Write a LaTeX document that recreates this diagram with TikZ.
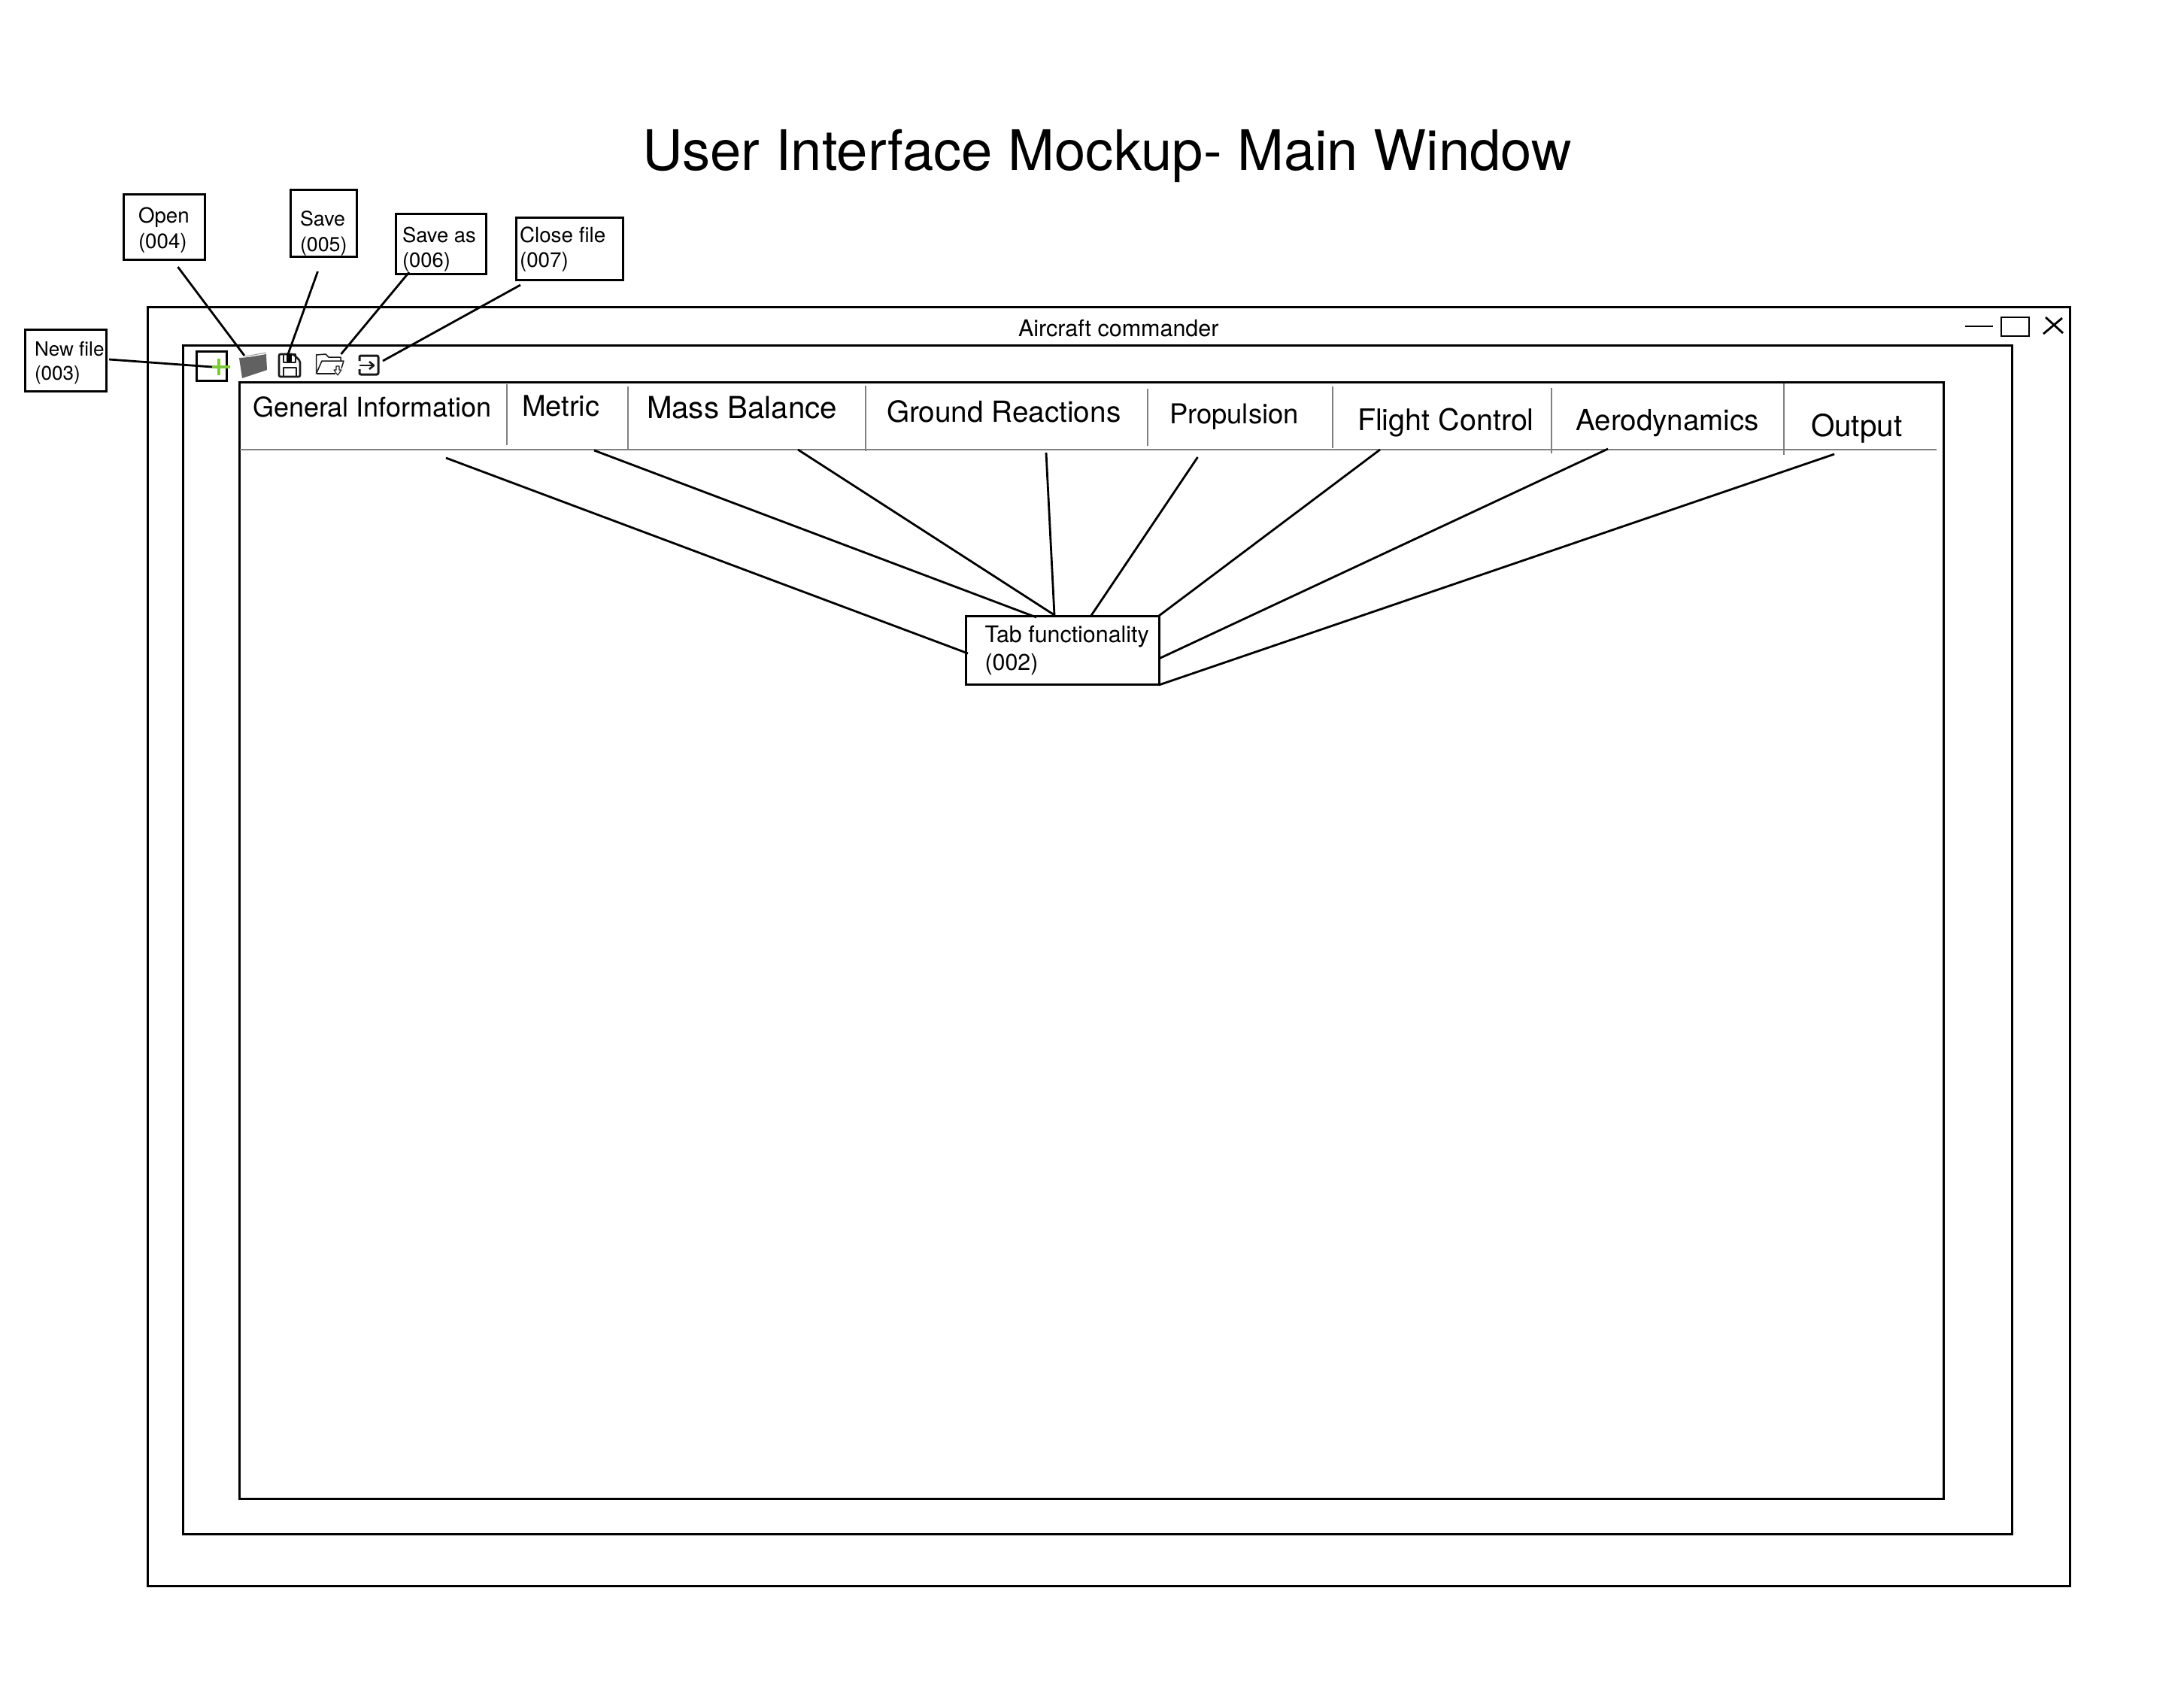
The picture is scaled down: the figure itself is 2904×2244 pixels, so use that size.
\documentclass[tikz,border=0pt]{standalone}
\usepackage{fontspec}
\setmainfont{TeX Gyre Heros}
\newcommand{\fsz}[1]{\fontsize{#1}{#1}\selectfont}
\tikzset{
  x=1pt,y=-1pt,
  panel/.style={draw=black,line width=3pt,fill=none,inner sep=0pt,outer sep=0pt,anchor=north west},
  labelbox/.style={draw=black,line width=3pt,fill=white,inner sep=0pt,outer sep=0pt,anchor=north west},
  plain/.style={inner sep=0pt,outer sep=0pt,anchor=base west,text=black},
  note/.style={inner sep=0pt,outer sep=0pt,anchor=north west,align=left,text=black},
  conn/.style={draw=black,line width=2.8pt},
  tabsep/.style={draw=black!50,line width=2.2pt},
  winctl/.style={draw=black,line width=2.8pt},
  ico/.style={draw=black!90,line width=2.6pt,line join=round},
}
\begin{document}
\begin{tikzpicture}
\useasboundingbox[fill=white] (0,0) rectangle (2904,2244);
% title
\node[plain,font=\fsz{74.2}] (title) at (854,226) {User Interface Mockup- Main Window};
% windows
\node[panel,minimum width=2556pt,minimum height=1701pt] (outer) at (196,408) {};
\node[panel,minimum width=2432pt,minimum height=1581pt] (middle) at (243,459) {};
\node[panel,minimum width=2266pt,minimum height=1485pt] (inner) at (318.5,508) {};
\node[plain,font=\fsz{30.5}] (appname) at (1354,447) {Aircraft commander};
% window controls
\coordinate (minA) at (2613,434); \coordinate (minB) at (2650,434);
\draw[winctl] (minA) -- (minB);
\node[panel,winctl,minimum width=37pt,minimum height=25pt] (maxbtn) at (2661,422) {};
\coordinate (xA) at (2717,444); \coordinate (xB) at (2742,423);
\coordinate (xC) at (2720,422); \coordinate (xD) at (2743,443);
\draw[winctl] (xA) -- (xB) (xC) -- (xD);
% tab bar
\coordinate (barL) at (319,598); \coordinate (barR) at (2575,598);
\draw[tabsep,line width=2.8pt] (barL) -- (barR);
\foreach \n/\sx/\sa/\sb in {a/674/511/592,b/835/514/597,c/1151/513/600,d/1526/517/593,e/1772/514/596,f/2063/516/603,g/2372/510/605}{
  \coordinate (sep\n t) at (\sx,\sa); \coordinate (sep\n b) at (\sx,\sb);
  \draw[tabsep] (sep\n t) -- (sep\n b);
}
\node[plain,font=\fsz{36}] (tGen) at (336,554) {General Information};
\node[plain,font=\fsz{38}] (tMet) at (694,553) {Metric};
\node[plain,font=\fsz{40.3}] (tMas) at (860,556) {Mass Balance};
\node[plain,font=\fsz{38.7}] (tGro) at (1179,561) {Ground Reactions};
\node[plain,font=\fsz{36.4}] (tPro) at (1555,563) {Propulsion};
\node[plain,font=\fsz{39.5}] (tFli) at (1805,572) {Flight Control};
\node[plain,font=\fsz{38.5}] (tAer) at (2095.5,572) {Aerodynamics};
\node[plain,font=\fsz{40.4}] (tOut) at (2408,580) {Output};
% callout boxes
\node[labelbox,minimum width=108pt,minimum height=87pt] (bOpen) at (164,258) {};
\node[labelbox,minimum width=88pt,minimum height=89pt] (bSave) at (386,252) {};
\node[labelbox,minimum width=120pt,minimum height=80pt] (bSaveAs) at (526,284) {};
\node[labelbox,minimum width=142pt,minimum height=83pt] (bClose) at (686,289) {};
\node[labelbox,minimum width=108pt,minimum height=82pt] (bNew) at (33,438) {};
\node[labelbox,minimum width=257pt,minimum height=91pt] (bTab) at (1284,819.5) {};
\node[note,font=\fontsize{27.7}{34}\selectfont] (nOpen) at (184,276) {Open\\(004)};
\node[note,font=\fontsize{26.8}{34}\selectfont] (nSave) at (399,280) {Save\\(005)};
\node[note,font=\fontsize{27.4}{33}\selectfont] (nSaveAs) at (535,302.5) {Save as\\(006)};
\node[note,font=\fontsize{27.8}{33}\selectfont] (nClose) at (691,301.5) {Close file\\(007)};
\node[note,font=\fontsize{26.1}{32}\selectfont] (nNew) at (46,454) {New file\\(003)};
\node[note,font=\fontsize{30.4}{37}\selectfont] (nTab) at (1309.5,832) {Tab functionality\\(002)};
% toolbar icons
\node[panel,minimum width=40pt,minimum height=39pt] (newicon) at (261,467) {};
% closed folder
\fill[black!62] (318,476) -- (322,503) -- (355,492) -- (354,471) -- (331,475) -- cycle;
\draw[black!40,line width=1pt] (326,474) -- (354,469);
% floppy
\draw[ico,rounded corners=2pt] (371,471) -- (390,471) -- (399,480) -- (399,501) -- (371,501) -- cycle;
\draw[ico,line width=1.6pt] (377,471) rectangle (393,482);
\fill[black] (381,471) rectangle (388,481);
\draw[ico] (377,501) -- (377,489) -- (394,489) -- (394,501);
% open folder
\draw[ico,line width=1.5pt] (420.5,497) -- (420.5,472) -- (433,471) -- (437,475) -- (453,475) -- (453,480);
\draw[ico,line width=1.5pt] (420.5,497) -- (428,480) -- (457,480) -- (454,490);
\draw[ico,line width=1.5pt] (420.5,497) -- (446,497);
\draw[ico,line width=1.1pt] (447,487) -- (447,492) -- (444,492) -- (449,499) -- (454,492) -- (451,492) -- (451,487) -- cycle;
% exit icon
\draw[ico,line width=3pt,rounded corners=2pt] (478,480) -- (478,473) -- (503,473) -- (503,498) -- (478,498) -- (478,491);
\draw[ico] (478,486) -- (497,486);
\draw[ico] (491,481) -- (497,486) -- (491,491);
% connectors to the toolbar
\coordinate (cOpenA) at (236.5,355); \coordinate (cOpenB) at (325,473);
\coordinate (cSaveA) at (422.5,361); \coordinate (cSaveB) at (383,471);
\coordinate (cAsA) at (544,362); \coordinate (cAsB) at (453.5,471);
\coordinate (cCloseA) at (692,379); \coordinate (cCloseB) at (509,480);
\coordinate (cNewA) at (145,478); \coordinate (cNewB) at (282,488);
\draw[conn] (cOpenA) -- (cOpenB);
\draw[conn] (cSaveA) -- (cSaveB);
\draw[conn] (cAsA) -- (cAsB);
\draw[conn] (cCloseA) -- (cCloseB);
\draw[conn] (cNewA) -- (cNewB);
% green plus
\coordinate (plL) at (282,488); \coordinate (plR) at (306,488);
\coordinate (plT) at (291,477); \coordinate (plB) at (291,499);
\draw[draw={rgb,255:red,126;green,200;blue,60},line width=3.4pt] (plL) -- (plR) (plT) -- (plB);
% connectors from the tabs
\foreach \n/\ax/\ay/\bx/\by in {a/593/609/1287/869,b/790/599/1378/821,c/1061/598/1402/818,d/1391/602/1402/818,e/1592.5/608/1450/820,f/1835/598/1541/819,g/2138/597/1541/876,h/2439/604/1541/911}{
  \coordinate (tab\n) at (\ax,\ay); \coordinate (end\n) at (\bx,\by);
  \draw[conn] (tab\n) -- (end\n);
}
\end{tikzpicture}
\end{document}
